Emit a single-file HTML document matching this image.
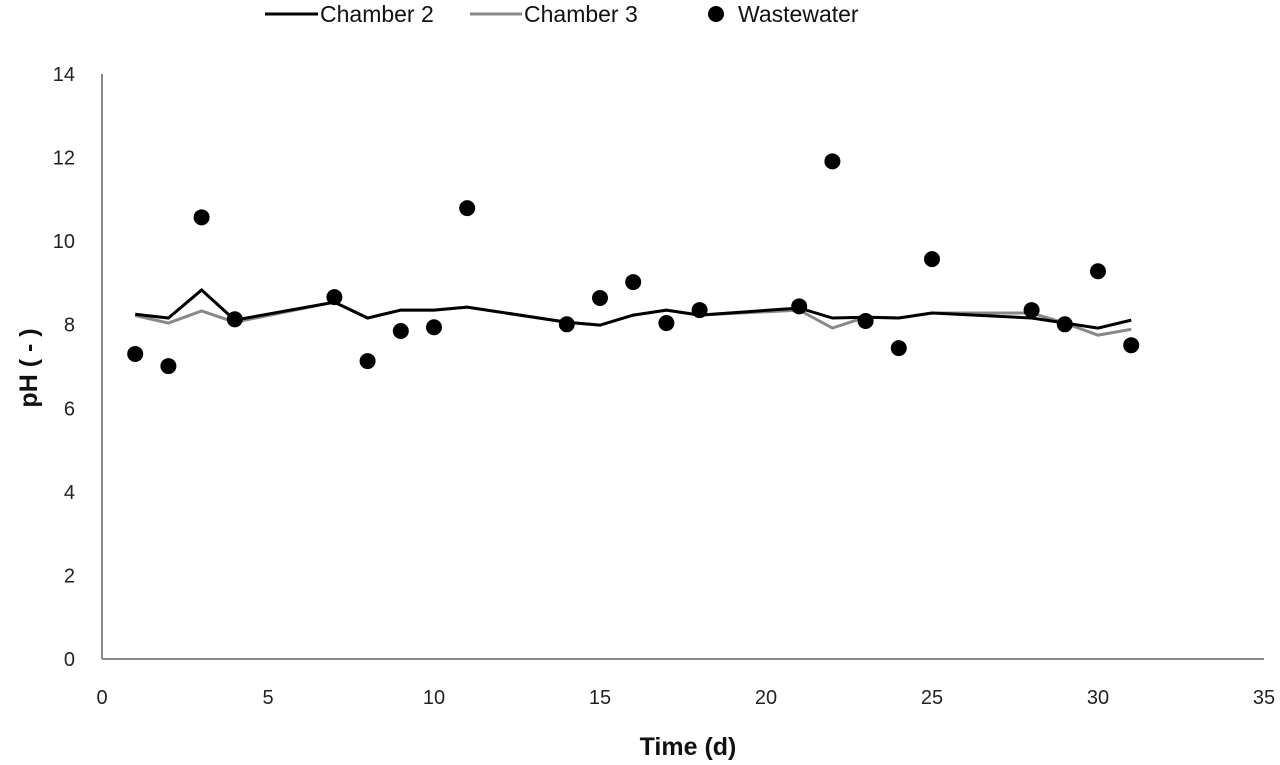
<!DOCTYPE html>
<html><head><meta charset="utf-8"><style>
body{margin:0;background:#fff}
svg{display:block;font-family:"Liberation Sans",sans-serif}
</style></head><body>
<svg id="chart" width="1280" height="765" viewBox="0 0 1280 765"></svg>
<script>
const days=[1,2,3,4,7,8,9,10,11,14,15,16,17,18,21,22,23,24,25,28,29,30,31];
const chamber2=[8.25,8.16,8.83,8.11,8.54,8.16,8.35,8.35,8.42,8.06,7.99,8.23,8.35,8.23,8.40,8.16,8.18,8.16,8.28,8.16,8.04,7.92,8.11];
const chamber3=[8.22,8.04,8.33,8.06,8.54,8.16,8.35,8.35,8.42,8.06,7.99,8.23,8.35,8.23,8.35,7.92,8.18,8.16,8.28,8.28,8.04,7.75,7.89];
const wastewater=[7.30,7.01,10.57,8.13,8.66,7.13,7.85,7.94,10.79,8.01,8.64,9.02,8.04,8.35,8.44,11.91,8.09,7.44,9.57,8.35,8.01,9.28,7.51];
const xTicks=[0,5,10,15,20,25,30,35];
const yTicks=[0,2,4,6,8,10,12,14];
const NS="http://www.w3.org/2000/svg";
const svg=document.getElementById('chart');
const X=v=>102+v*(1264-102)/35;
const Y=v=>659-v*(659-74)/14;
function mk(t,a,p){const e=document.createElementNS(NS,t);for(const k in a)e.setAttribute(k,a[k]);(p||svg).appendChild(e);return e;}
let e;
e=mk('line',{x1:102,y1:74,x2:102,y2:659,stroke:'#888','stroke-width':2});


e=mk('line',{x1:102,y1:659,x2:1264,y2:659,stroke:'#888','stroke-width':2});


yTicks.forEach(t=>{const el=mk('text',{x:75,y:Y(t)+7,'text-anchor':'end','font-size':20,fill:'#222'});el.textContent=t;

});
xTicks.forEach(t=>{const el=mk('text',{x:X(t),y:704,'text-anchor':'middle','font-size':20,fill:'#222'});el.textContent=t;

});
e=mk('text',{x:688,y:755,'text-anchor':'middle','font-size':25,'font-weight':'bold',fill:'#111'});e.textContent='Time (d)';


e=mk('text',{x:0,y:0,'text-anchor':'middle','font-size':25,'font-weight':'bold',fill:'#111',transform:'translate(37,368) rotate(-90)'});e.textContent='pH ( - )';


e=mk('polyline',{points:days.map((d,i)=>X(d)+','+Y(chamber3[i])).join(' '),fill:'none',stroke:'#888','stroke-width':3});


e=mk('polyline',{points:days.map((d,i)=>X(d)+','+Y(chamber2[i])).join(' '),fill:'none',stroke:'#000','stroke-width':3});


days.forEach((d,i)=>{const c=mk('circle',{cx:X(d),cy:Y(wastewater[i]),r:8,fill:'#000'});

});
// legend
e=mk('line',{x1:265,y1:14,x2:318,y2:14,stroke:'#000','stroke-width':3});


e=mk('text',{x:320,y:22,'font-size':23,fill:'#111'});e.textContent='Chamber 2';


e=mk('line',{x1:470,y1:14,x2:522,y2:14,stroke:'#888','stroke-width':3});


e=mk('text',{x:524,y:22,'font-size':23,fill:'#111'});e.textContent='Chamber 3';


e=mk('circle',{cx:716,cy:14,r:8,fill:'#000'});


e=mk('text',{x:738,y:22,'font-size':23,fill:'#111'});e.textContent='Wastewater';


</script>
</body></html>
